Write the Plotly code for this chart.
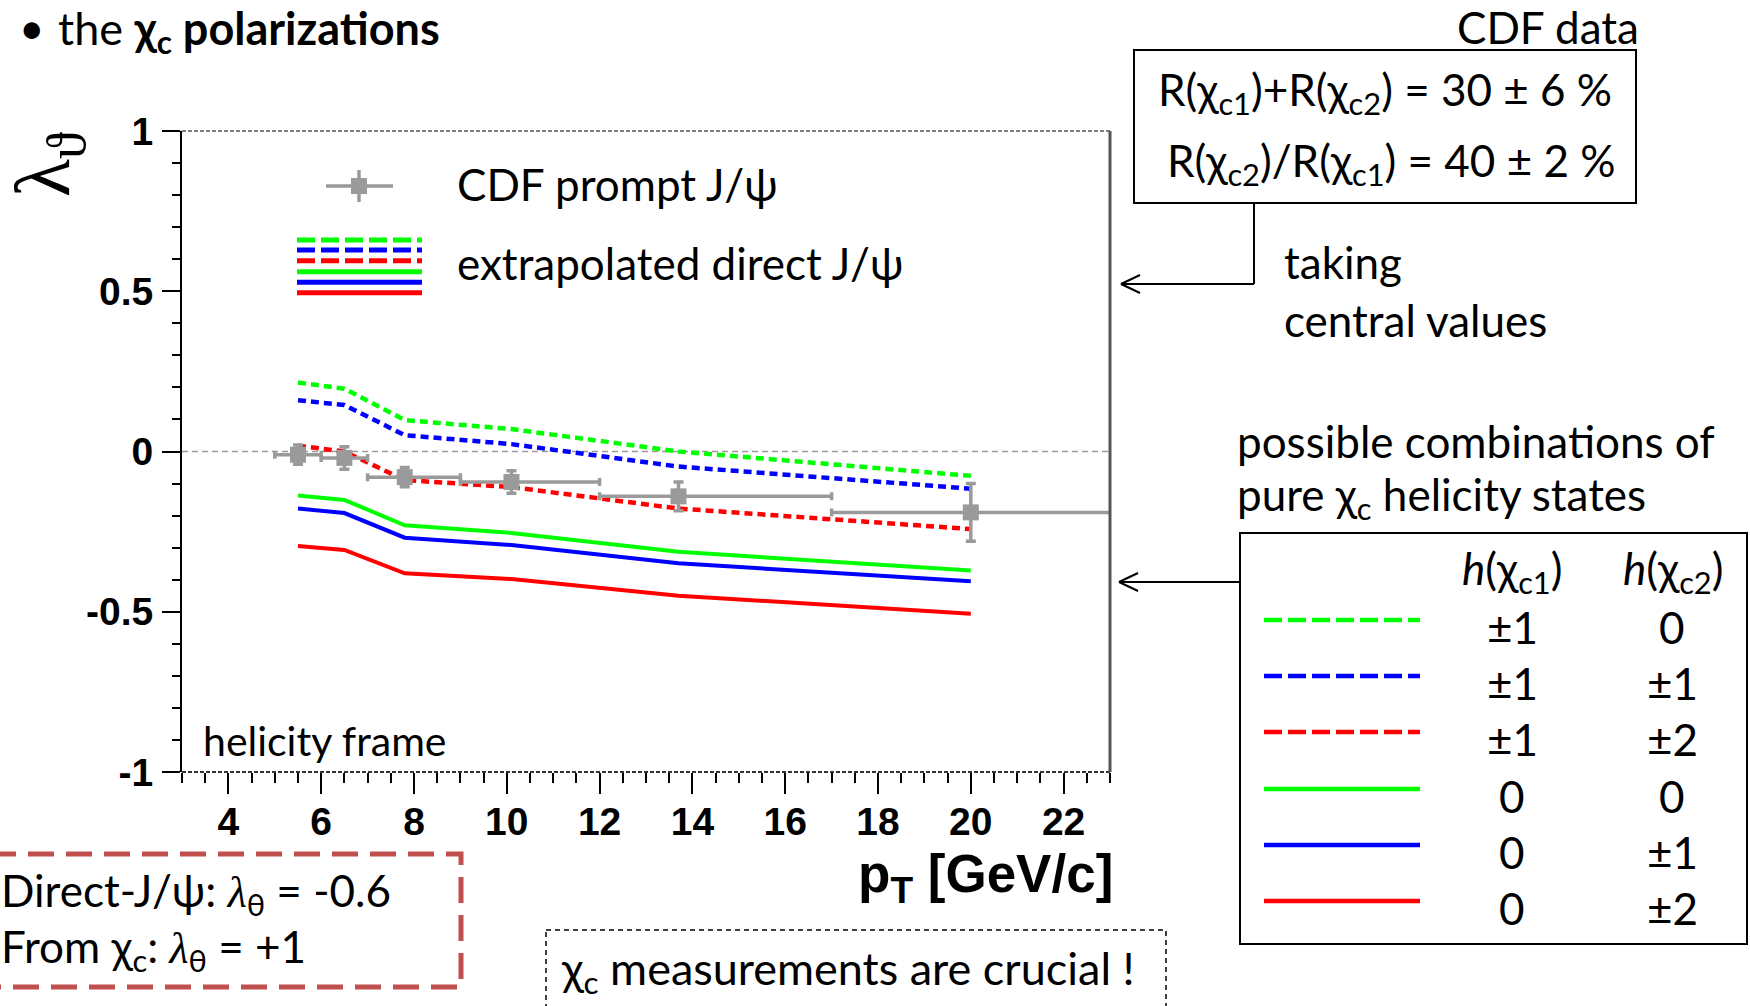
import plotly.graph_objects as go

# ---- CDF prompt J/psi, helicity frame (pT bins and lambda_theta) ----
pt_mean = [5.5, 6.5, 7.8, 10.1, 13.7, 20.0]
pt_lo = [5.0, 6.0, 7.0, 9.0, 12.0, 17.0]
pt_hi = [6.0, 7.0, 9.0, 12.0, 17.0, 30.0]
cdf_lambda = [-0.01, -0.02, -0.08, -0.095, -0.14, -0.19]
cdf_err = [0.03, 0.035, 0.03, 0.035, 0.045, 0.09]

# ---- extrapolated direct J/psi, one curve per chi_c helicity combination ----
pt_curve = [5.5, 6.5, 7.8, 10.1, 13.7, 20.0]
lam_c1pm1_c2_0 = [0.215, 0.196, 0.098, 0.070, 0.000, -0.076]
lam_c1pm1_c2pm1 = [0.160, 0.145, 0.051, 0.023, -0.047, -0.116]
lam_c1pm1_c2pm2 = [0.018, 0.000, -0.089, -0.111, -0.178, -0.242]
lam_c1_0_c2_0 = [-0.137, -0.151, -0.230, -0.254, -0.313, -0.371]
lam_c1_0_c2pm1 = [-0.178, -0.192, -0.269, -0.292, -0.349, -0.405]
lam_c1_0_c2pm2 = [-0.295, -0.307, -0.380, -0.398, -0.450, -0.506]

h_chic1 = ["±1", "±1", "±1", "0", "0", "0"]
h_chic2 = ["0", "±1", "±2", "0", "±1", "±2"]

x_ticks = [4, 6, 8, 10, 12, 14, 16, 18, 20, 22]
y_ticks = [-1, -0.5, 0, 0.5, 1]
y_ticktext = ["-1", "-0.5", "0", "0.5", "1"]

curves = [
    (lam_c1pm1_c2_0, "#00ff00", "8px,5px"),
    (lam_c1pm1_c2pm1, "#0000ff", "8px,5px"),
    (lam_c1pm1_c2pm2, "#ff0000", "8px,5px"),
    (lam_c1_0_c2_0, "#00ff00", "solid"),
    (lam_c1_0_c2pm1, "#0000ff", "solid"),
    (lam_c1_0_c2pm2, "#ff0000", "solid"),
]

GRAY = "#9a9a9a"
TXT = "Lato"
TXT_SIZE = 44

# plot-area geometry in pixels (used to place slide decorations)
W_FIG, H_FIG = 1750, 1006
L, R, T, B = 182, 1110, 131, 772
PW, PH = R - L, B - T


def fx(px):
    return (px - L) / PW


def fy(py):
    return (B - py) / PH


fig = go.Figure()

for ys, col, dash in curves:
    fig.add_trace(go.Scatter(
        x=pt_curve, y=ys, mode="lines",
        line=dict(color=col, width=4.5 if dash != "solid" else 4, dash=dash),
        hoverinfo="skip",
    ))

fig.add_trace(go.Scatter(
    x=pt_mean, y=cdf_lambda, mode="markers",
    marker=dict(symbol="square", size=16, color=GRAY),
    error_x=dict(type="data", symmetric=False,
                 array=[h - m for h, m in zip(pt_hi, pt_mean)],
                 arrayminus=[m - l for m, l in zip(pt_mean, pt_lo)],
                 color=GRAY, thickness=3.5, width=4),
    error_y=dict(type="data", array=cdf_err, color=GRAY, thickness=3.5, width=5),
    hoverinfo="skip",
))

shapes = []
ann = []


def line(x0, y0, x1, y1, color="black", width=2, dash="solid", layer="above"):
    shapes.append(dict(type="line", xref="paper", yref="paper",
                       x0=fx(x0), y0=fy(y0), x1=fx(x1), y1=fy(y1),
                       line=dict(color=color, width=width, dash=dash), layer=layer))


def rect(x0, y0, x1, y1, color="black", width=2, dash="solid"):
    shapes.append(dict(type="rect", xref="paper", yref="paper",
                       x0=fx(x0), y0=fy(y0), x1=fx(x1), y1=fy(y1),
                       line=dict(color=color, width=width, dash=dash),
                       fillcolor="rgba(0,0,0,0)"))


def text(x, y, s, size=TXT_SIZE, anchor="left", family=TXT, color="black",
         angle=0, weight="normal", vanchor="middle"):
    ann.append(dict(xref="paper", yref="paper", x=fx(x), y=fy(y), text=s,
                    showarrow=False, xanchor=anchor, yanchor=vanchor,
                    textangle=angle, borderpad=0,
                    font=dict(family=family, size=size, color=color, weight=weight)))


# horizontal reference at lambda = 0 and frame lines
shapes.append(dict(type="line", xref="paper", yref="y", x0=0, x1=1, y0=0, y1=0,
                   line=dict(color=GRAY, width=1.5, dash="6px,4px"), layer="below"))
line(L, T, R, T, color="#555555", width=1.5, dash="4px,2px")
line(L, B, R, B, color="#333333", width=2, dash="4px,2px")
line(R, T, R, B, color="#555555", width=3)

# in-frame legend
line(326, 186, 393, 186, color=GRAY, width=3.5)
line(359, 170, 359, 202, color=GRAY, width=3.5)
shapes.append(dict(type="rect", xref="paper", yref="paper",
                   x0=fx(351), x1=fx(367), y0=fy(178), y1=fy(194),
                   line=dict(width=0), fillcolor=GRAY))
text(456, 184, "CDF prompt J/ψ")
for yy, (ys, col, dash) in zip([240, 250, 260.7, 271.7, 282.3, 292.7], curves):
    line(297, yy, 422, yy, color=col, width=5, dash="solid" if dash == "solid" else "18px,6px")
text(456, 263, "extrapolated direct J/ψ")
text(202, 740, "helicity frame", size=41)

# axis titles
text(1114, 878, "p<sub>T</sub> [GeV/c]", size=53, anchor="right",
     family="Liberation Sans", weight="bold")
text(48, 164, "λ<sub>ϑ</sub>", size=78, anchor="center", family="Liberation Serif", angle=-90)

# slide header
text(18, 0, "•", size=44, vanchor="top")
text(57, 0, "the <b>χ<sub>c</sub> polarizations</b>", size=45, vanchor="top")

# CDF feed-down fractions
text(1640, 0, "CDF data", anchor="right", vanchor="top")
rect(1134, 50, 1636, 203)
text(1385, 92, "R(χ<sub>c1</sub>)+R(χ<sub>c2</sub>) = 30 ± 6 %", anchor="center")
text(1391, 164, "R(χ<sub>c2</sub>)/R(χ<sub>c1</sub>) = 40 ± 2 %", anchor="center")
line(1254, 203, 1254, 284)
line(1254, 284, 1121, 284)
line(1121, 284, 1140, 275)
line(1121, 284, 1140, 293)
text(1283, 262, "taking")
text(1283, 320, "central values")

# helicity-state table
text(1236, 441, "possible combinations of")
text(1236, 497, "pure χ<sub>c</sub> helicity states")
rect(1240, 533, 1747, 944)
line(1240, 582, 1119, 582)
line(1119, 582, 1138, 573)
line(1119, 582, 1138, 591)
text(1512, 571, "<i>h</i>(χ<sub>c1</sub>)", anchor="center")
text(1673, 571, "<i>h</i>(χ<sub>c2</sub>)", anchor="center")
row_y = [620, 676, 732, 789, 845, 901]
for yy, (ys, col, dash), a, b in zip(row_y, curves, h_chic1, h_chic2):
    line(1264, yy, 1420, yy, color=col, width=4.5, dash="solid" if dash == "solid" else "18px,6px")
    text(1512, yy + 7, a, anchor="center")
    text(1672, yy + 7, b, anchor="center")

# boxed remarks at the bottom
rect(-10, 854, 461, 987, color="#c0504d", width=5, dash="26px,12px")
LAM = "<span style=\"font-family:Liberation Serif;font-style:italic\">λ</span><sub>θ</sub>"
text(0, 893, "Direct-J/ψ: " + LAM + " = -0.6")
text(0, 949, "From χ<sub>c</sub>: " + LAM + " = +1")
rect(546, 930, 1166, 1020, color="black", width=1.5, dash="5px,4px")
text(560, 971, "χ<sub>c</sub> measurements are crucial !", size=45)

tickfont = dict(family="Liberation Sans", size=39, color="black", weight="bold")

fig.update_layout(
    width=W_FIG, height=H_FIG,
    margin=dict(l=L, r=W_FIG - R, t=T, b=H_FIG - B),
    plot_bgcolor="white", paper_bgcolor="white",
    showlegend=False,
    shapes=shapes, annotations=ann,
    xaxis=dict(range=[3, 23], tickmode="array", tickvals=x_ticks,
               ticks="outside", ticklen=21, tickwidth=2, tickcolor="black",
               showline=False, showgrid=False, zeroline=False,
               tickfont=tickfont, ticklabelstandoff=-6,
               minor=dict(tickmode="linear", tick0=3, dtick=0.5, ticks="outside",
                          ticklen=10, tickwidth=2, tickcolor="black", showgrid=False)),
    yaxis=dict(range=[-1, 1], tickmode="array", tickvals=y_ticks, ticktext=y_ticktext,
               ticks="outside", ticklen=18, tickwidth=2, tickcolor="black",
               showline=True, linecolor="black", linewidth=2,
               showgrid=False, zeroline=False,
               tickfont=tickfont, ticklabelstandoff=1,
               minor=dict(tickmode="linear", tick0=0, dtick=0.1, ticks="outside",
                          ticklen=8, tickwidth=2, tickcolor="black", showgrid=False)),
)

fig.write_html("out.html")
